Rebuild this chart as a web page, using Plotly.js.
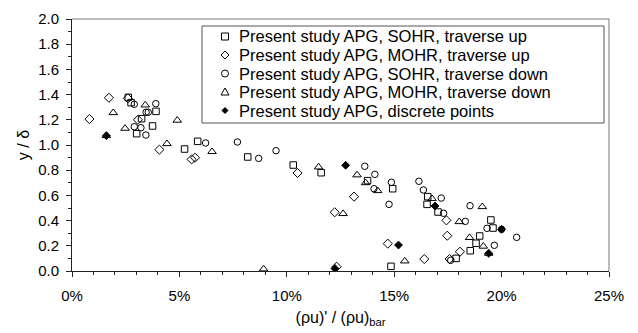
<!DOCTYPE html>
<html>
<head>
<meta charset="utf-8">
<script src="https://cdn.plot.ly/plotly-3.0.1.min.js"></script>
<style>html,body{margin:0;padding:0;background:#fff;}#chart{width:638px;height:333px;}</style>
</head>
<body>
<div id="chart"></div>
<script>
// Series names
const seriesNames = [
  "Present study APG, SOHR, traverse up",
  "Present study APG, MOHR, traverse up",
  "Present study APG, SOHR, traverse down",
  "Present study APG, MOHR, traverse down",
  "Present study APG, discrete points"
];

// SOHR, traverse up (open squares)
const sohrUpX = [2.62, 2.75, 3.24, 3.91, 3.75, 3.01, 5.24, 5.85, 8.18, 10.3, 11.6, 13.76, 14.93, 14.85, 16.56, 16.53, 17.04, 19.5, 19.6, 18.98, 18.81, 18.54, 17.88];
const sohrUpY = [1.378, 1.336, 1.209, 1.267, 1.151, 1.09, 0.968, 1.029, 0.905, 0.841, 0.78, 0.717, 0.653, 0.037, 0.59, 0.529, 0.468, 0.405, 0.341, 0.278, 0.22, 0.161, 0.1];

// MOHR, traverse up (open diamonds)
const mohrUpX = [0.81, 1.72, 2.6, 3.07, 4.07, 5.57, 5.73, 10.5, 12.23, 12.32, 13.13, 14.7, 16.4, 17.43, 17.47, 17.58, 18.06];
const mohrUpY = [1.206, 1.375, 1.37, 1.20, 0.963, 0.886, 0.899, 0.778, 0.466, 0.034, 0.59, 0.217, 0.095, 0.402, 0.28, 0.095, 0.153];

// SOHR, traverse down (open circles)
const sohrDownX = [2.9, 3.9, 3.45, 3.55, 2.9, 3.21, 3.44, 6.22, 7.7, 8.69, 9.5, 13.63, 14.1, 14.87, 14.76, 14.06, 16.15, 16.36, 17.19, 17.3, 18.53, 18.31, 19.32, 20.0, 20.7, 19.66, 17.63];
const sohrDownY = [1.323, 1.328, 1.26, 1.26, 1.145, 1.137, 1.079, 1.016, 1.024, 0.894, 0.955, 0.831, 0.767, 0.704, 0.529, 0.653, 0.712, 0.643, 0.579, 0.458, 0.518, 0.394, 0.339, 0.331, 0.267, 0.204, 0.085];

// MOHR, traverse down (open triangles)
const mohrDownX = [1.92, 1.6, 2.47, 3.41, 4.9, 4.42, 6.52, 8.92, 11.48, 13.27, 13.67, 14.23, 12.62, 15.49, 16.76, 18.03, 19.1, 18.51, 19.15, 19.4];
const mohrDownY = [1.256, 1.074, 1.132, 1.317, 1.196, 1.01, 0.947, 0.016, 0.825, 0.762, 0.70, 0.637, 0.455, 0.079, 0.574, 0.391, 0.51, 0.265, 0.196, 0.14];

// Discrete points (filled diamonds)
const discreteX = [1.6, 12.74, 12.24, 15.2, 16.9, 20.0, 19.4];
const discreteY = [1.074, 0.839, 0.02, 0.206, 0.516, 0.331, 0.14];

// Axis ticks
const xTickVals = [0, 5, 10, 15, 20, 25];
const xTickText = ["0%", "5%", "10%", "15%", "20%", "25%"];
const yTickVals = [0, 0.2, 0.4, 0.6, 0.8, 1.0, 1.2, 1.4, 1.6, 1.8, 2.0];

const font = "Liberation Sans, Arial, sans-serif";
const mk = (sym, size) => ({symbol: sym, size: size, color: "#000", line: {color: "#000", width: 1}});

const traces = [
  {x: sohrUpX, y: sohrUpY, name: seriesNames[0], type: "scatter", mode: "markers", marker: mk("square-open", 6.5)},
  {x: mohrUpX, y: mohrUpY, name: seriesNames[1], type: "scatter", mode: "markers", marker: mk("diamond-open", 7)},
  {x: sohrDownX, y: sohrDownY, name: seriesNames[2], type: "scatter", mode: "markers", marker: mk("circle-open", 6.5)},
  {x: mohrDownX, y: mohrDownY, name: seriesNames[3], type: "scatter", mode: "markers", marker: mk("triangle-up-open", 7.5)},
  {x: discreteX, y: discreteY, name: seriesNames[4], type: "scatter", mode: "markers", marker: mk("diamond", 6)}
];

// Plot area in pixels (for legend placement)
const PL = 72, PR = 609, PT = 19, PB = 271;
const px = X => (X - PL) / (PR - PL);
const py = Y => (PB - Y) / (PB - PT);

// Manual legend (box, symbols, labels)
const legRowsY = [36.5, 55, 73.5, 92, 110.5];
const legSymX = 225, legTextX = 237;
const shapes = [
  {type: "line", xref: "paper", yref: "paper", x0: 0, x1: 1, y0: 1, y1: 1, line: {color: "#777", width: 1}},
  {type: "line", xref: "paper", yref: "paper", x0: 1, x1: 1, y0: 0, y1: 1, line: {color: "#777", width: 1}},
  {type: "rect", xref: "paper", yref: "paper", x0: px(202), x1: px(604), y0: py(123), y1: py(26), line: {color: "#555", width: 1}, fillcolor: "rgba(0,0,0,0)"}
];
const symShapes = [
  {type: "rect", x0: -3.5, x1: 3.5, y0: -3.5, y1: 3.5},
  {type: "path", path: "M0,-4 L4,0 L0,4 L-4,0 Z"},
  {type: "circle", x0: -3.5, x1: 3.5, y0: -3.5, y1: 3.5},
  {type: "path", path: "M0,4 L4,-3 L-4,-3 Z"},
  {type: "path", path: "M0,-3 L3,0 L0,3 L-3,0 Z"}
];
const annotations = [];
seriesNames.forEach((nm, i) => {
  shapes.push(Object.assign({
    xref: "paper", yref: "paper",
    xsizemode: "pixel", ysizemode: "pixel",
    xanchor: px(legSymX), yanchor: py(legRowsY[i]),
    line: {color: "#000", width: 1},
    fillcolor: i === 4 ? "#000" : "rgba(0,0,0,0)"
  }, symShapes[i]));
  annotations.push({
    xref: "paper", yref: "paper", x: px(legTextX), y: py(legRowsY[i]),
    xanchor: "left", yanchor: "middle", showarrow: false,
    text: nm, font: {family: font, size: 16.5, color: "#000"}
  });
});

const layout = {
  width: 638, height: 333,
  margin: {l: PL, r: 638 - PR, t: PT, b: 333 - PB},
  paper_bgcolor: "#fff", plot_bgcolor: "#fff",
  font: {family: font, size: 15, color: "#000"},
  showlegend: false,
  xaxis: {
    range: [0, 25], tickvals: xTickVals, ticktext: xTickText,
    showgrid: false, zeroline: false,
    showline: true, linecolor: "#222", linewidth: 1,
    ticks: "outside", ticklen: 5, tickcolor: "#222",
    minor: {dtick: 1, ticks: "outside", ticklen: 3, tickcolor: "#222", showgrid: false},
    tickfont: {family: font, size: 15},
    ticklabelstandoff: 6,
    title: {text: "(ρu)' / (ρu)<sub>bar</sub>", font: {family: font, size: 16}, standoff: 8}
  },
  yaxis: {
    range: [0, 2], tickvals: yTickVals, tickformat: ".1f",
    showgrid: false, zeroline: false,
    showline: true, linecolor: "#222", linewidth: 1,
    ticks: "outside", ticklen: 5, tickcolor: "#222",
    minor: {dtick: 0.1, ticks: "outside", ticklen: 3, tickcolor: "#222", showgrid: false},
    tickfont: {family: font, size: 15},
    ticklabelstandoff: 4,
    title: {text: "y / δ", font: {family: font, size: 16}, standoff: 4}
  },
  shapes: shapes,
  annotations: annotations
};

Plotly.newPlot("chart", traces, layout, {displayModeBar: false, staticPlot: true});
</script>
</body>
</html>
